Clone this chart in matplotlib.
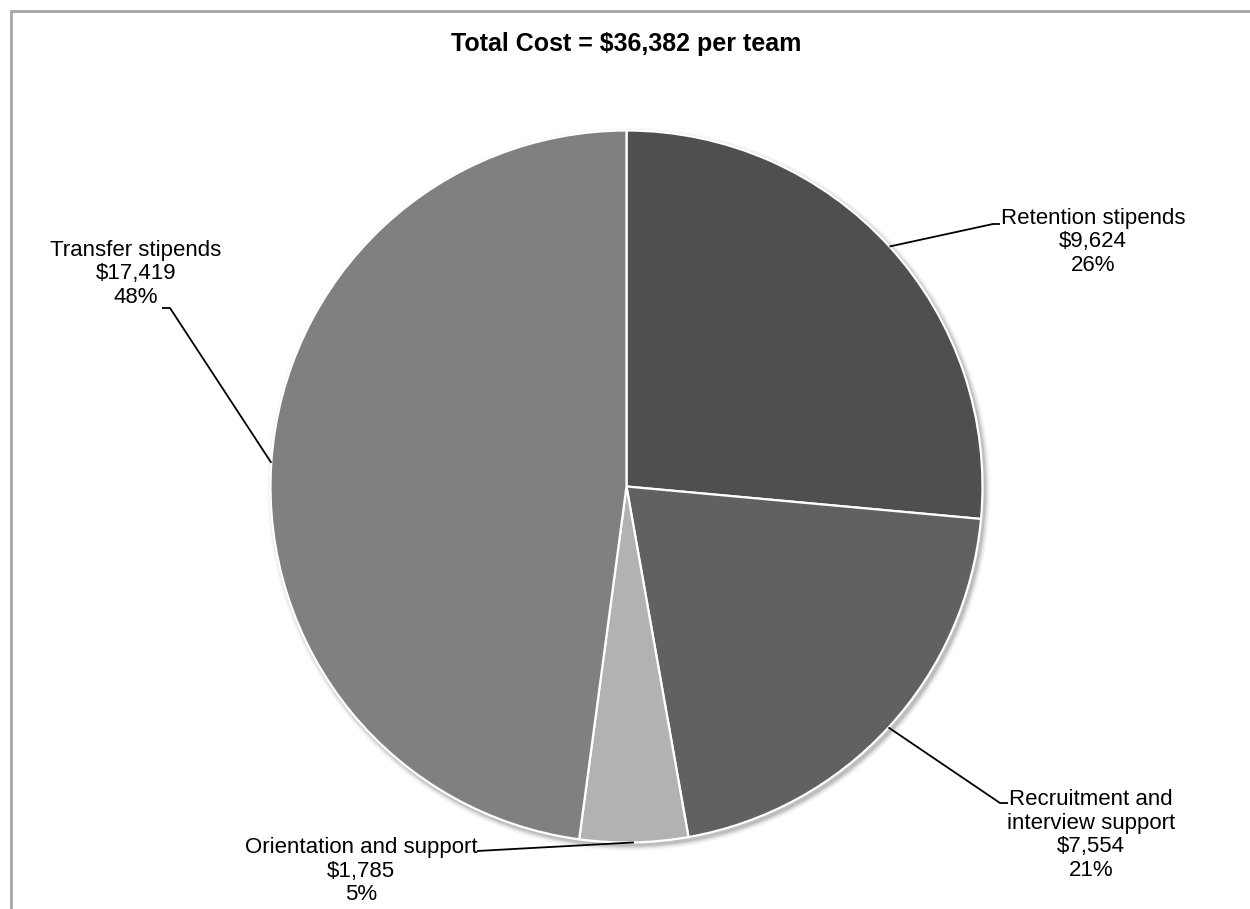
import numpy as np
import matplotlib
matplotlib.use("Agg")
import matplotlib.pyplot as plt
from matplotlib.patches import Circle, Rectangle

plt.rcParams['font.family'] = ['Liberation Sans', 'DejaVu Sans']

# Cost components per team (clockwise from 12 o'clock)
categories = ["Retention stipends", "Recruitment and\ninterview support",
              "Orientation and support", "Transfer stipends"]
costs = [9624, 7554, 1785, 17419]
percent_labels = ["26%", "21%", "5%", "48%"]
slice_colors = ["#4f4f4f", "#616161", "#b2b2b2", "#808080"]
total_cost = 36382

W, H = 1250, 909
fig = plt.figure(figsize=(W / 100, H / 100), dpi=100)
ax = fig.add_axes([0, 0, 1, 1])

# pixel-like coordinates, y measured upward
cx, cy, r = 626.5, H - 486.5, 356.0

# soft drop shadow behind the pie
for i, a in enumerate([0.10, 0.07, 0.05, 0.03, 0.02]):
    ax.add_patch(Circle((cx + 2.5, cy - 3.0), r + 1 + i * 1.2, color="#000000",
                        alpha=a, lw=0, zorder=1))

wedges, _ = ax.pie(costs, colors=slice_colors, startangle=90, counterclock=False,
                   center=(cx, cy), radius=r, frame=True,
                   wedgeprops=dict(edgecolor="white", linewidth=1.6))
for w in wedges:
    w.set_zorder(2)

# label block positions (centre of text) and leader elbow points
label_pos = [(1093, H - 242), (1091, H - 835), (361, H - 871), (136, H - 274)]
elbow_pts = [((993, H - 224), (1000, H - 224)),
             ((1000, H - 803), (1008, H - 803)),
             ((477, H - 851), (477, H - 851)),
             ((170, H - 308), (162, H - 308))]

txt_kw = dict(fontsize=16, ha="center", va="center", linespacing=1.16, zorder=5)
for w, name, val, pct, lp, (p1, p2) in zip(wedges, categories, costs,
                                           percent_labels, label_pos, elbow_pts):
    mid = np.deg2rad((w.theta1 + w.theta2) / 2)
    ex, ey = cx + r * np.cos(mid), cy + r * np.sin(mid)
    ax.plot([ex, p1[0], p2[0]], [ey, p1[1], p2[1]], color="black", lw=1.3,
            zorder=4, solid_capstyle="butt")
    ax.text(lp[0], lp[1], f"{name}\n${val:,}\n{pct}", **txt_kw)

ax.text(cx, H - 51, f"Total Cost = ${total_cost:,} per team", fontsize=18,
        fontweight="bold", ha="center", va="baseline")

# chart frame
ax.add_patch(Rectangle((10.5, -20), W + 20, H - 11 + 20, fill=False,
                       edgecolor="#a6a6a6", lw=2.0, zorder=0))

ax.set_xlim(0, W)
ax.set_ylim(0, H)
ax.set_aspect("auto")
ax.axis("off")

fig.savefig("out.png", dpi=100)
